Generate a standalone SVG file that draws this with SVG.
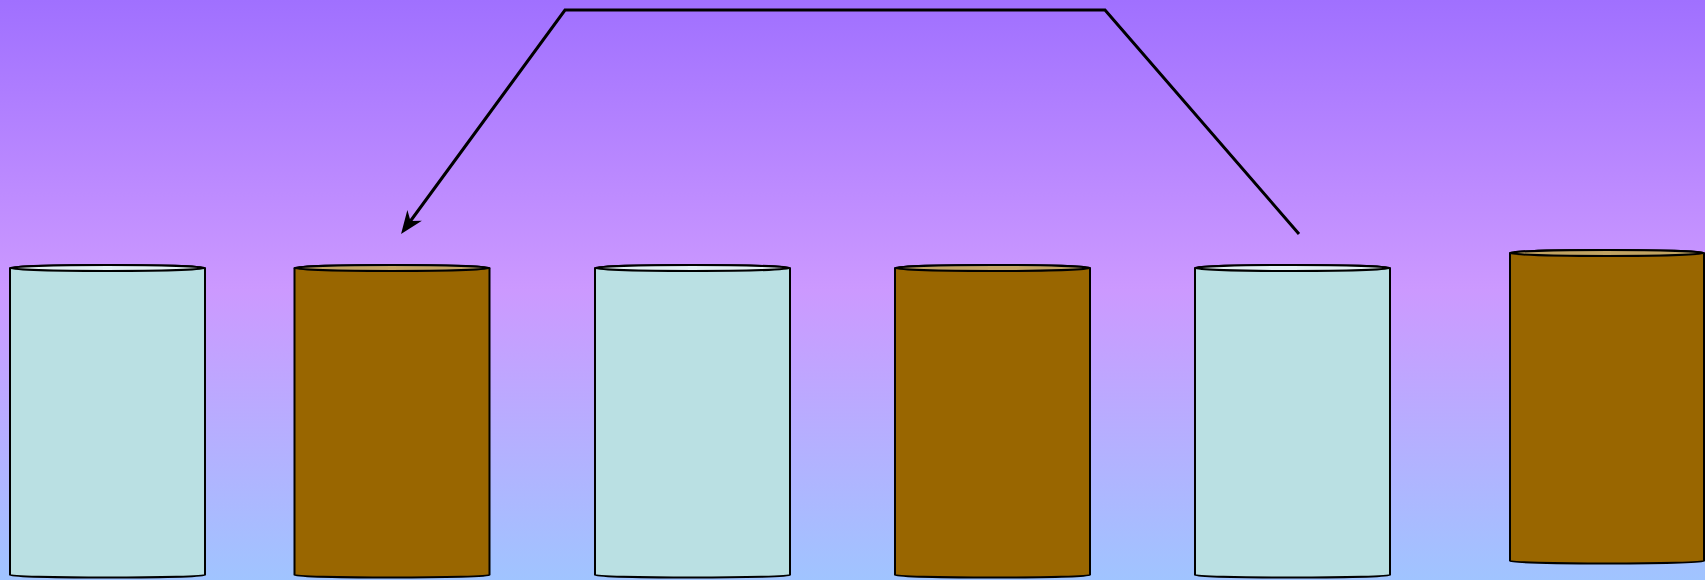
<svg xmlns="http://www.w3.org/2000/svg" width="1705" height="580" viewBox="0 0 1705 580">
<defs>
<linearGradient id="bg" x1="0" y1="0" x2="0" y2="1">
<stop offset="0" stop-color="#A070FF"/>
<stop offset="0.5" stop-color="#CC99FF"/>
<stop offset="1" stop-color="#A0C4FF"/>
</linearGradient>
<marker id="arr" markerUnits="userSpaceOnUse" markerWidth="40" markerHeight="40" refX="0" refY="0" orient="auto" overflow="visible">
<path d="M16,0 L-7,-9 L0,0 L-7,9 Z" fill="#000"/>
</marker>
</defs>
<style>
.body{stroke:#000;stroke-width:2}
.light .body{fill:#BAE0E3}
.light .top{fill:#E2F2F4;stroke:#000;stroke-width:2}
.brown .body{fill:#996600}
.brown .top{fill:#C2A463;stroke:#000;stroke-width:2}
.edge{fill:none;stroke:#000;stroke-width:3}
</style>
<rect x="0" y="0" width="1705" height="580" fill="url(#bg)"/>
<g id="cyl1" class="light">
<path class="body" d="M10,268 A97.5,3 0 0 1 205,268 V575 A97.5,2.5 0 0 1 10,575 Z"/>
<ellipse class="top" cx="107.5" cy="268" rx="97.5" ry="3"/>
</g>
<g id="cyl2" class="brown">
<path class="body" d="M294.5,268 A97.5,3 0 0 1 489.5,268 V575 A97.5,2.5 0 0 1 294.5,575 Z"/>
<ellipse class="top" cx="392" cy="268" rx="97.5" ry="3"/>
</g>
<g id="cyl3" class="light">
<path class="body" d="M595,268 A97.5,3 0 0 1 790,268 V575 A97.5,2.5 0 0 1 595,575 Z"/>
<ellipse class="top" cx="692.5" cy="268" rx="97.5" ry="3"/>
</g>
<g id="cyl4" class="brown">
<path class="body" d="M895,268 A97.5,3 0 0 1 1090,268 V575 A97.5,2.5 0 0 1 895,575 Z"/>
<ellipse class="top" cx="992.5" cy="268" rx="97.5" ry="3"/>
</g>
<g id="cyl5" class="light">
<path class="body" d="M1195,268 A97.5,3 0 0 1 1390,268 V575 A97.5,2.5 0 0 1 1195,575 Z"/>
<ellipse class="top" cx="1292.5" cy="268" rx="97.5" ry="3"/>
</g>
<g id="cyl6" class="brown">
<path class="body" d="M1510,253 A97,3 0 0 1 1704,253 V561 A97,2.5 0 0 1 1510,561 Z"/>
<ellipse class="top" cx="1607" cy="253" rx="97" ry="3"/>
</g>
<g id="connectors">
<path class="edge" d="M1299,234 L1105,10 L565,10 L410.5,221" marker-end="url(#arr)"/>
</g>
</svg>
